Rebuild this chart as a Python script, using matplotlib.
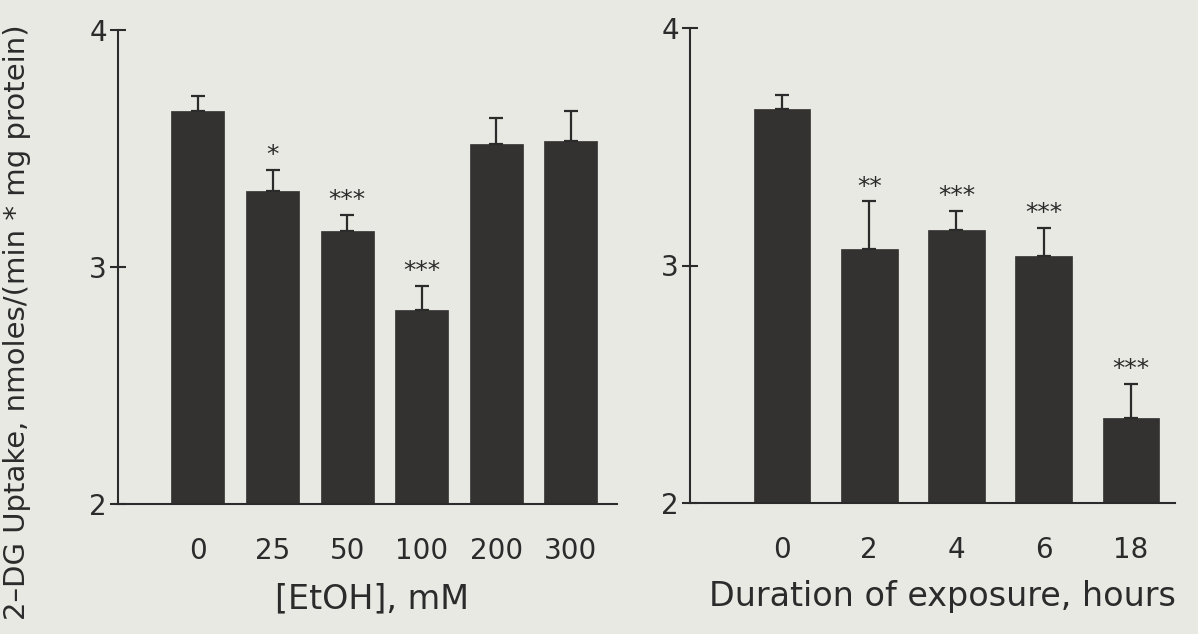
import matplotlib
matplotlib.use("Agg")
import matplotlib.pyplot as plt
import numpy as np

# ---- data ----
etoh_labels = ["0", "25", "50", "100", "200", "300"]
etoh_means = [3.66, 3.32, 3.15, 2.82, 3.52, 3.53]
etoh_err = [0.06, 0.09, 0.07, 0.10, 0.11, 0.13]
etoh_stars = ["", "*", "***", "***", "", ""]

time_labels = ["0", "2", "4", "6", "18"]
time_means = [3.66, 3.07, 3.15, 3.04, 2.36]
time_err = [0.06, 0.20, 0.08, 0.12, 0.14]
time_stars = ["", "**", "***", "***", "***"]

yticks = [2, 3, 4]
ylabel = "2\u2013DG Uptake, nmoles/(min * mg protein)"
xlabel_left = "[EtOH], mM"
xlabel_right = "Duration of exposure, hours"

BG = "#e9e9e4"
BAR = "#343230"
INK = "#2b2b2b"
W, H = 1198, 634

fig = plt.figure(figsize=(W / 100, H / 100), dpi=100, facecolor=BG)
plt.rcParams["font.family"] = ["DejaVu Sans"]


def panel(rect, labels, means, errs, stars, xlim, width, xlabel, lab_xy):
    ax = fig.add_axes(rect)
    ax.set_facecolor(BG)
    x = np.arange(len(labels))
    ax.bar(x, np.array(means) - 2, bottom=2, width=width, color=BAR,
           edgecolor=BAR, linewidth=0.5, zorder=2)
    ax.errorbar(x, means, yerr=[np.zeros(len(errs)), errs], fmt="none",
                ecolor=INK, elinewidth=1.6, capsize=5, capthick=1.6, zorder=3)
    for xi, m, e, s in zip(x, means, errs, stars):
        if s:
            ax.annotate(s, xy=(xi, m + e), xytext=(0, 2),
                        textcoords="offset points", ha="center", va="bottom",
                        fontsize=18, color=INK)
    ax.set_xlim(*xlim)
    ax.set_ylim(2, 4)
    ax.set_yticks(yticks)
    ax.set_yticklabels([str(t) for t in yticks], fontsize=20, color=INK)
    ax.set_xticks(x)
    ax.set_xticklabels(labels, fontsize=20, color=INK)
    ax.tick_params(axis="x", length=0, pad=24)
    ax.tick_params(axis="y", direction="inout", length=12, width=1.5,
                   pad=2, colors=INK)
    for s in ("top", "right"):
        ax.spines[s].set_visible(False)
    for s in ("left", "bottom"):
        ax.spines[s].set_color(INK)
        ax.spines[s].set_linewidth(1.5)
    ax.set_xlabel(xlabel, fontsize=24, color=INK)
    ax.xaxis.set_label_coords(*lab_xy)
    return ax


# left panel: spine at x=118, baseline y=504, top y=30, right end 617
axL = panel([118 / W, 1 - 504 / H, (617 - 118) / W, (504 - 30) / H],
            etoh_labels, etoh_means, etoh_err, etoh_stars,
            (-1.072, 5.617), 0.71, xlabel_left, (0.51, -0.165))
# right panel: spine at x=690, baseline y=503, top y=28, right end 1175
axR = panel([690 / W, 1 - 503 / H, (1175 - 690) / W, (503 - 28) / H],
            time_labels, time_means, time_err, time_stars,
            (-1.054, 4.504), 0.65, xlabel_right, (0.52, -0.162))

fig.text(17 / W, 1 - 322 / H, ylabel, rotation=90, ha="center", va="center",
         fontsize=21, color=INK)

fig.savefig("out.png", dpi=100, facecolor=BG)
